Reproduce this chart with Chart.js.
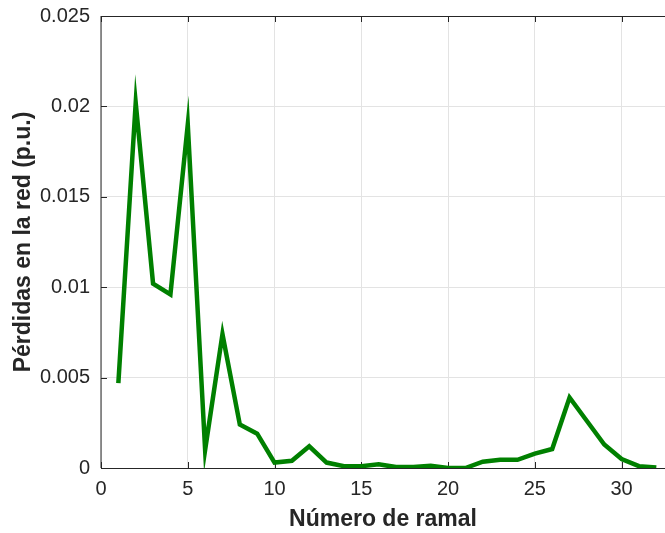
<!DOCTYPE html>
<html>
<head>
<meta charset="utf-8">
<script src="https://cdn.jsdelivr.net/npm/chart.js@4/dist/chart.umd.min.js"></script>
<style>
  html, body { margin: 0; padding: 0; background: #fff; }
  canvas { display: block; }
</style>
</head>
<body>
<canvas id="graficoPerdidas" width="665" height="533"></canvas>
<script>
// número de ramal y pérdidas (p.u.)
const ramales = [1, 2, 3, 4, 5, 6, 7, 8, 9, 10, 11, 12, 13, 14, 15, 16,
                 17, 18, 19, 20, 21, 22, 23, 24, 25, 26, 27, 28, 29, 30, 31, 32];
const perdidas = [0.0047, 0.0202, 0.0102, 0.0096, 0.0190, 0.0010, 0.0074, 0.0024,
                  0.0019, 0.0003, 0.0004, 0.0012, 0.0003, 0.0001, 0.0001, 0.0002,
                  0.00005, 0.00005, 0.00012, 0.0, 0.0, 0.00035, 0.00045, 0.00045,
                  0.0008, 0.00105, 0.0039, 0.0026, 0.0013, 0.0005, 0.0001, 0.00003];

const xTicks = [0, 5, 10, 15, 20, 25, 30];
const yTicks = [0, 0.005, 0.01, 0.015, 0.02, 0.025];

const colorEje = '#262626';
const fuente = 'Arial, "Liberation Sans", Helvetica, sans-serif';

// ejes con marcas hacia dentro y línea superior, estilo MATLAB
const ejesCaja = {
    id: 'ejesCaja',
    beforeDatasetsDraw(chart) {
        const { ctx, chartArea: a, scales: { x, y } } = chart;
        const largo = 6;
        ctx.save();
        ctx.strokeStyle = colorEje;
        ctx.lineWidth = 1;
        ctx.beginPath();
        // bordes izquierdo, superior e inferior
        ctx.moveTo(a.left, a.top);
        ctx.lineTo(a.left, a.bottom);
        ctx.moveTo(a.left, a.top + 0.5);
        ctx.lineTo(a.right, a.top + 0.5);
        ctx.moveTo(a.left, a.bottom + 0.5);
        ctx.lineTo(a.right, a.bottom + 0.5);
        xTicks.forEach(v => {
            const px = Math.round(x.getPixelForValue(v)) + 0.5;
            ctx.moveTo(px, a.bottom);
            ctx.lineTo(px, a.bottom - largo);
            ctx.moveTo(px, a.top);
            ctx.lineTo(px, a.top + largo);
        });
        yTicks.forEach(v => {
            const py = Math.round(y.getPixelForValue(v)) + 0.5;
            ctx.moveTo(a.left, py);
            ctx.lineTo(a.left + largo, py);
        });
        ctx.stroke();
        ctx.restore();
        // puntas agudas en los picos de la curva
        ctx.miterLimit = 20;
    }
};

new Chart(document.getElementById('graficoPerdidas').getContext('2d'), {
    type: 'line',
    data: {
        datasets: [{
            data: ramales.map((r, i) => ({ x: r, y: perdidas[i] })),
            borderColor: '#008000',
            borderWidth: 4.5,
            borderJoinStyle: 'miter',
            pointRadius: 0,
            tension: 0,
            fill: false
        }]
    },
    options: {
        responsive: false,
        animation: false,
        layout: { padding: { top: 16, right: 0, bottom: 0, left: 0 } },
        plugins: {
            legend: { display: false },
            tooltip: { enabled: false }
        },
        scales: {
            x: {
                type: 'linear',
                min: 0,
                max: 32.5,
                afterFit: s => { s.height = 65; s.paddingRight = 0; },
                ticks: {
                    stepSize: 5,
                    includeBounds: false,
                    padding: 9,
                    color: colorEje,
                    font: { family: fuente, size: 20 },
                    maxRotation: 0
                },
                grid: { color: '#e3e3e3', drawTicks: false },
                border: { display: false },
                title: {
                    display: true,
                    text: 'Número de ramal',
                    color: colorEje,
                    font: { family: fuente, size: 23, weight: 'bold' },
                    padding: { top: 0, bottom: 0 }
                }
            },
            y: {
                min: 0,
                max: 0.025,
                // el área del gráfico empieza justo en el margen superior
                afterFit: s => { s.width = 101; s.paddingTop = 0; s.paddingBottom = 0; },
                ticks: {
                    stepSize: 0.005,
                    padding: 11,
                    color: colorEje,
                    font: { family: fuente, size: 20 },
                    callback: v => String(Number(v.toFixed(3)))
                },
                grid: { color: '#e3e3e3', drawTicks: false },
                border: { display: false },
                title: {
                    display: true,
                    text: 'Pérdidas en la red (p.u.)',
                    color: colorEje,
                    font: { family: fuente, size: 23, weight: 'bold' },
                    padding: { top: 10, bottom: 0 }
                }
            }
        }
    },
    plugins: [ejesCaja]
});
</script>
</body>
</html>
